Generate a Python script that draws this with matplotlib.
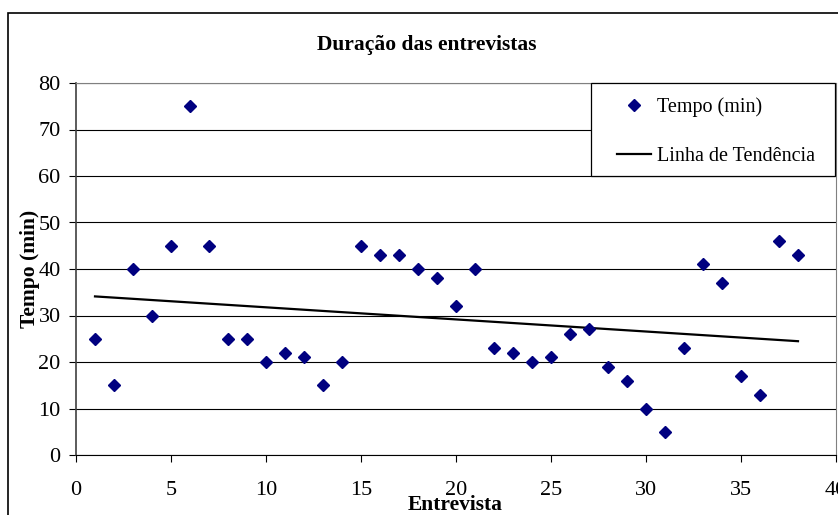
import numpy as np
import matplotlib
matplotlib.use('Agg')
from matplotlib import pyplot as plt
from matplotlib.patches import Rectangle

# data
entrevista = list(range(1, 39))
tempo = [25, 15, 40, 30, 45, 75, 45, 25, 25, 20,
         22, 21, 15, 20, 45, 43, 43, 40, 38, 32,
         40, 23, 22, 20, 21, 26, 27, 19, 16, 10,
         5, 23, 41, 37, 17, 13, 46, 43]

plt.rcParams['font.family'] = ['Liberation Serif', 'DejaVu Serif']

W, H = 838, 515
fig = plt.figure(figsize=(W/100, H/100), dpi=100)
ax = fig.add_axes([76/W, 1 - 455/H, 760/W, 372/H])

# chart area border (cut off at right and bottom like the original)
fig.patches.append(Rectangle((8/W, -0.1), 2, 1 - 13/H + 0.1,
                             transform=fig.transFigure, fill=False,
                             edgecolor='black', lw=1.2, zorder=0))

# trend line (least squares)
k, b = np.polyfit(entrevista, tempo, 1)
xs = np.array([entrevista[0], entrevista[-1]])
ax.plot(entrevista, tempo, 'D', color='#000080', ms=6.3, label='Tempo (min)', zorder=3)
ax.plot(xs, k*xs + b, '-', color='black', lw=1.6, label='Linha de Tendência', zorder=2)

ax.set_xlim(0, 40)
ax.set_ylim(0, 80)
ax.set_xticks(range(0, 41, 5))
ax.set_yticks(range(0, 81, 10))
ax.grid(axis='y', color='black', lw=0.8)
ax.set_axisbelow(True)
ax.tick_params(direction='out', length=5, width=0.8, labelsize=16)
ax.tick_params(axis='x', pad=14)
ax.tick_params(axis='y', pad=6)
for s in ['top', 'right']:
    ax.spines[s].set_color('#808080')
ax.spines['left'].set_color('#404040')
ax.spines['left'].set_linewidth(1.2)
ax.spines['bottom'].set_color('black')

fig.text(427/W, 1 - 45/H, 'Duração das entrevistas', fontsize=15.5,
         fontweight='bold', ha='center', va='center')
ax.set_xlabel('Entrevista', fontsize=15.5, fontweight='bold')
ax.xaxis.set_label_coords((455 - 76)/760, -(495 - 455)/372)
ax.set_ylabel('Tempo (min)', fontsize=15.5, fontweight='bold')
ax.yaxis.set_label_coords(-(76 - 40)/760, 0.5)

# legend box drawn by hand, entries placed inside it
fig.patches.append(Rectangle((591/W, 1 - 176/H), 244/W, 93/H,
                             transform=fig.transFigure, facecolor='white',
                             edgecolor='black', lw=0.9, zorder=1))
leg = fig.legend(loc='center left', bbox_to_anchor=(617/W, 1 - 131.5/H),
                 fontsize=14.5, frameon=False, borderpad=0,
                 labelspacing=1.5, handlelength=1.7, handletextpad=0.3,
                 borderaxespad=0)
leg.set_zorder(2)

plt.savefig('out.png', dpi=100)
